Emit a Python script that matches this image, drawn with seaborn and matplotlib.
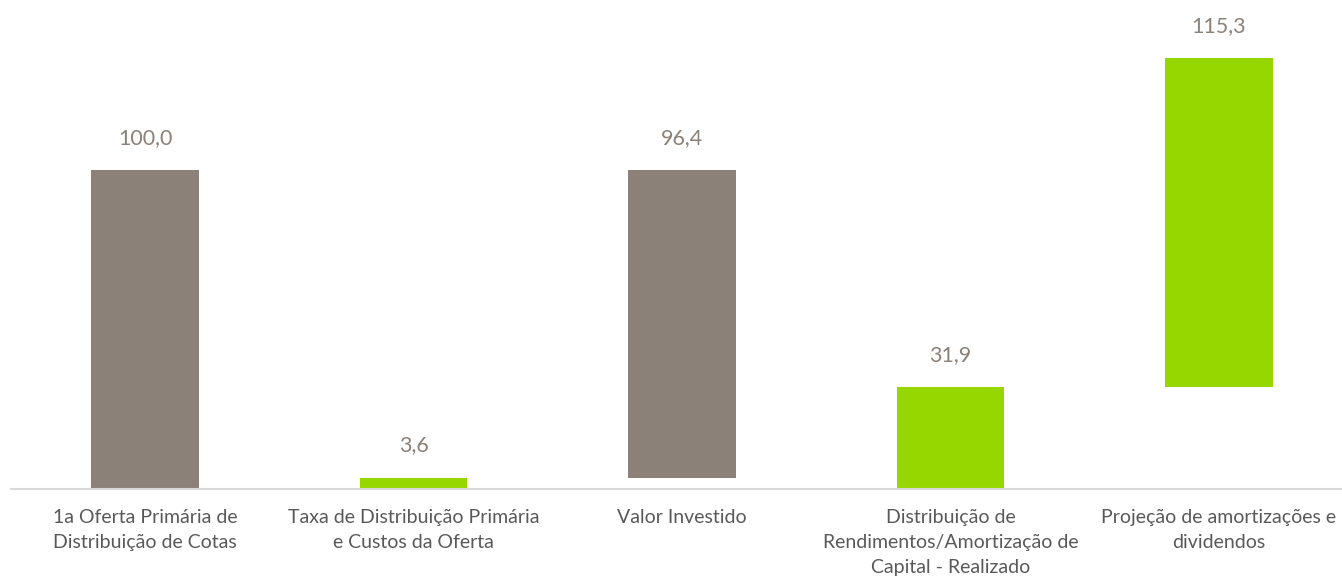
import numpy as np
import matplotlib.pyplot as plt
import seaborn as sns

# --- data ---
categories = [
    "1a Oferta Primária de\nDistribuição de Cotas",
    "Taxa de Distribuição Primária\ne Custos da Oferta",
    "Valor Investido",
    "Distribuição de\nRendimentos/Amortização de\nCapital - Realizado",
    "Projeção de amortizações e\ndividendos",
]
bar_bottom = [0.0, 0.0, 3.6, 0.0, 31.9]
bar_top = [100.0, 3.6, 100.0, 31.9, 135.2]
value_labels = ["100,0", "3,6", "96,4", "31,9", "115,3"]
bar_colors = ["#8B8178", "#97D700", "#8B8178", "#97D700", "#97D700"]

heights = np.array(bar_top) - np.array(bar_bottom)

sns.set_style("white")
plt.rcParams["font.family"] = ["Lato", "DejaVu Sans"]

fig = plt.figure(figsize=(13.42, 5.78), dpi=100)
ax = fig.add_axes([0, 89 / 578, 1, 489 / 578])

sns.barplot(x=categories, y=heights, bottom=bar_bottom, width=0.40,
            errorbar=None, ax=ax, color=bar_colors[0], linewidth=0)
for patch, c in zip(ax.patches, bar_colors):
    patch.set_facecolor(c)

# value labels above each bar
for i, (top, lab) in enumerate(zip(bar_top, value_labels)):
    ax.annotate(lab, xy=(i, top), xytext=(0, 23), textcoords="offset points",
                ha="center", va="center", fontsize=15.5, color="#8B8178")

ax.set_xlim(-0.540, 4.458)
ax.set_ylim(0, 153.3)
ax.set_yticks([])
ax.set_xlabel("")
ax.set_ylabel("")
for s in ["top", "left", "right"]:
    ax.spines[s].set_visible(False)
ax.spines["bottom"].set_color("#D9D9D9")
ax.spines["bottom"].set_linewidth(1.5)
ax.spines["bottom"].set_bounds(-0.5, 4.5)
ax.tick_params(axis="x", length=0, pad=14.5, labelsize=14, labelcolor="#595959")
for t in ax.get_xticklabels():
    t.set_linespacing(1.58)

fig.savefig("out.png", dpi=100)
